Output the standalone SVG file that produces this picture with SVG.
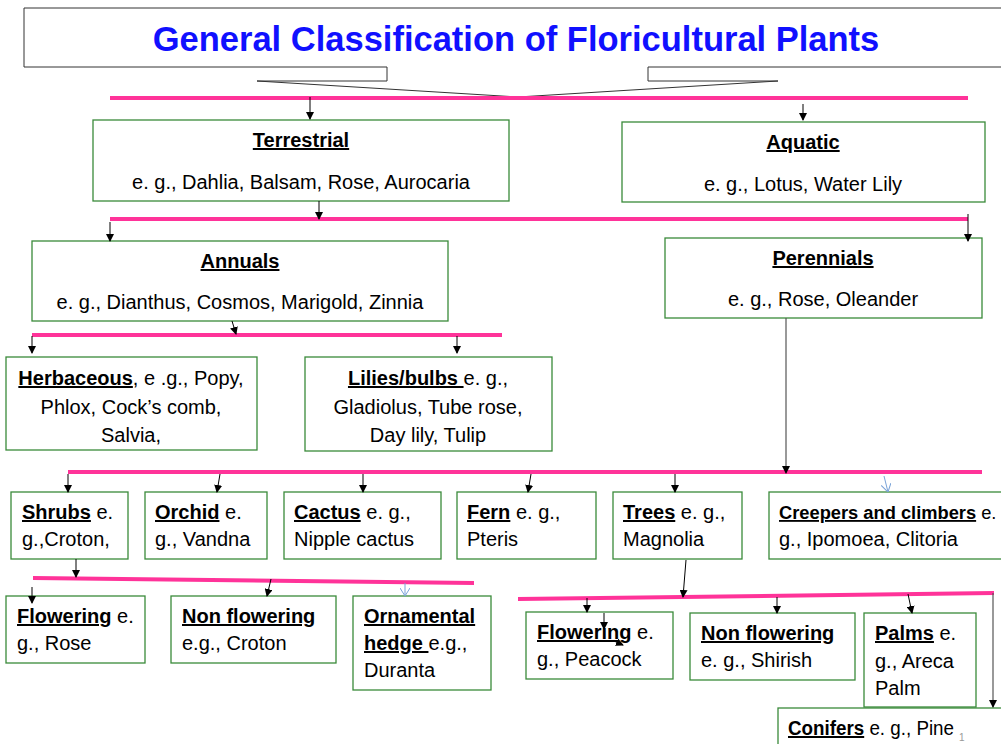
<svg xmlns="http://www.w3.org/2000/svg" width="1001" height="744" viewBox="0 0 1001 744">
<style>
.box{fill:#fff;stroke:#3a8a3a;stroke-width:1.3}
.t{font-family:"Liberation Sans",Arial,sans-serif;font-size:20px;fill:#000}
.b{font-weight:bold;text-decoration:underline}
.pink{stroke:#ff3399;stroke-width:4;fill:none}
.c{stroke:#000;stroke-width:1;fill:none;marker-end:url(#ah)}
.cb{stroke:#7aa3d8;stroke-width:1;fill:none;marker-end:url(#ahb)}
.cg{stroke:#555;stroke-width:1.2;fill:none;marker-end:url(#ah)}
</style>
<defs>
<marker id="ah" markerWidth="8" markerHeight="8" refX="7" refY="4" orient="auto" markerUnits="userSpaceOnUse">
<path d="M0,0 L8,4 L0,8 Z" fill="#000"/>
</marker>
<marker id="ahb" markerWidth="8" markerHeight="10" refX="8" refY="5" orient="auto" markerUnits="userSpaceOnUse">
<path d="M0,0 L8,5 L0,10" fill="none" stroke="#7aa3d8" stroke-width="1"/>
</marker>
</defs>
<rect width="1001" height="744" fill="#fff"/>

<g id="title">
<path d="M24,8 H1002 V67 H648 V81 H778 L518,97 L257,81 H387 V67 H24 Z" fill="#fff" stroke="#333" stroke-width="1"/>
<text x="516" y="51" font-family="Liberation Sans,Arial,sans-serif" font-size="34.5" font-weight="bold" fill="#1010ff" text-anchor="middle">General Classification of Floricultural Plants</text>
</g>

<g id="terrestrial">
<rect class="box" x="93" y="120" width="416" height="81"/>
<text class="t" x="301" y="147" text-anchor="middle"><tspan class="b">Terrestrial</tspan></text>
<text class="t" x="301" y="189" text-anchor="middle">e. g., Dahlia, Balsam, Rose, Aurocaria</text>
</g>
<g id="aquatic">
<rect class="box" x="622" y="122" width="363" height="80"/>
<text class="t" x="803" y="149" text-anchor="middle"><tspan class="b">Aquatic</tspan></text>
<text class="t" x="803" y="191" text-anchor="middle">e. g., Lotus, Water Lily</text>
</g>
<g id="annuals">
<rect class="box" x="32" y="241" width="416" height="80"/>
<text class="t" x="240" y="268" text-anchor="middle"><tspan class="b">Annuals</tspan></text>
<text class="t" x="240" y="309" text-anchor="middle">e. g., Dianthus, Cosmos, Marigold, Zinnia</text>
</g>
<g id="perennials">
<rect class="box" x="665" y="238" width="317" height="80"/>
<text class="t" x="823" y="265" text-anchor="middle"><tspan class="b">Perennials</tspan></text>
<text class="t" x="823" y="306" text-anchor="middle">e. g., Rose, Oleander</text>
</g>
<g id="herbaceous">
<rect class="box" x="6" y="357" width="251" height="93"/>
<text class="t" x="131" y="385" text-anchor="middle"><tspan class="b">Herbaceous</tspan>, e .g., Popy,</text>
<text class="t" x="131" y="414" text-anchor="middle">Phlox, Cock’s comb,</text>
<text class="t" x="131" y="442" text-anchor="middle">Salvia,</text>
</g>
<g id="lilies">
<rect class="box" x="305" y="357" width="247" height="94"/>
<text class="t" x="428" y="385" text-anchor="middle"><tspan class="b">Lilies/bulbs </tspan>e. g.,</text>
<text class="t" x="428" y="414" text-anchor="middle">Gladiolus, Tube rose,</text>
<text class="t" x="428" y="442" text-anchor="middle">Day lily, Tulip</text>
</g>

<g id="shrubs">
<rect class="box" x="11" y="492" width="117" height="67"/>
<text class="t" x="22" y="519"><tspan class="b">Shrubs</tspan> e.</text>
<text class="t" x="22" y="546">g.,Croton,</text>
</g>
<g id="orchid">
<rect class="box" x="145" y="492" width="122" height="67"/>
<text class="t" x="155" y="519"><tspan class="b">Orchid</tspan> e.</text>
<text class="t" x="155" y="546">g., Vandna</text>
</g>
<g id="cactus">
<rect class="box" x="284" y="492" width="157" height="67"/>
<text class="t" x="294" y="519"><tspan class="b">Cactus</tspan> e. g.,</text>
<text class="t" x="294" y="546">Nipple cactus</text>
</g>
<g id="fern">
<rect class="box" x="457" y="492" width="139" height="67"/>
<text class="t" x="467" y="519"><tspan class="b">Fern</tspan> e. g.,</text>
<text class="t" x="467" y="546">Pteris</text>
</g>
<g id="trees">
<rect class="box" x="613" y="492" width="129" height="67"/>
<text class="t" x="623" y="519"><tspan class="b">Trees</tspan> e. g.,</text>
<text class="t" x="623" y="546">Magnolia</text>
</g>
<g id="creepers">
<rect class="box" x="769" y="492" width="240" height="67"/>
<text class="t" x="779" y="519" style="font-size:18.3px"><tspan class="b">Creepers and climbers</tspan> e.</text>
<text class="t" x="779" y="546">g., Ipomoea, Clitoria</text>
</g>

<g id="flowering-shrub">
<rect class="box" x="6" y="596" width="139" height="67"/>
<text class="t" x="17" y="623"><tspan class="b">Flowering</tspan> e.</text>
<text class="t" x="17" y="650">g., Rose</text>
</g>
<g id="nonflowering-shrub">
<rect class="box" x="171" y="596" width="165" height="67"/>
<text class="t" x="182" y="623"><tspan class="b">Non flowering</tspan></text>
<text class="t" x="182" y="650">e.g., Croton</text>
</g>
<g id="ornamental">
<rect class="box" x="353" y="596" width="138" height="94"/>
<text class="t" x="364" y="623"><tspan class="b">Ornamental</tspan></text>
<text class="t" x="364" y="650"><tspan class="b">hedge </tspan>e.g.,</text>
<text class="t" x="364" y="677">Duranta</text>
</g>

<g id="flowering-tree">
<rect class="box" x="526" y="612" width="147" height="67"/>
<text class="t" x="537" y="639"><tspan class="b">Flowering</tspan> e.</text>
<text class="t" x="537" y="666">g., Peacock</text>
</g>
<g id="nonflowering-tree">
<rect class="box" x="690" y="613" width="165" height="67"/>
<text class="t" x="701" y="640"><tspan class="b">Non flowering</tspan></text>
<text class="t" x="701" y="667">e. g., Shirish</text>
</g>
<g id="palms">
<rect class="box" x="864" y="613" width="112" height="94"/>
<text class="t" x="875" y="640"><tspan class="b">Palms</tspan> e.</text>
<text class="t" x="875" y="668">g., Areca</text>
<text class="t" x="875" y="695">Palm</text>
</g>
<g id="conifers">
<rect class="box" x="778" y="708" width="240" height="50"/>
<text class="t" x="788" y="735" textLength="166" lengthAdjust="spacingAndGlyphs"><tspan class="b">Conifers</tspan> e. g., Pine</text>
</g>
<text x="959" y="741" font-family="Liberation Sans,Arial,sans-serif" font-size="10" fill="#999">1</text>

<g id="connectors">
<line class="pink" x1="110" y1="98" x2="968" y2="98"/>
<line class="c" x1="310" y1="97" x2="310" y2="119"/>
<line class="c" x1="803" y1="104" x2="803" y2="120"/>
<line class="pink" x1="110" y1="219" x2="968" y2="219"/>
<line class="c" x1="319" y1="201" x2="319" y2="219"/>
<line class="c" x1="110" y1="222" x2="110" y2="241"/>
<line class="c" x1="968" y1="214" x2="968" y2="241"/>
<line class="pink" x1="32" y1="335" x2="502" y2="335"/>
<line class="c" x1="232" y1="321" x2="236" y2="334"/>
<line class="c" x1="32" y1="336" x2="32" y2="353"/>
<line class="c" x1="457" y1="336" x2="457" y2="353"/>
<line class="pink" x1="68" y1="472" x2="982" y2="472"/>
<line class="cg" x1="786" y1="318" x2="786" y2="473"/>
<line class="c" x1="68" y1="474" x2="68" y2="492"/>
<line class="c" x1="220" y1="474" x2="217" y2="492"/>
<line class="c" x1="363" y1="474" x2="363" y2="492"/>
<line class="c" x1="531" y1="474" x2="528" y2="492"/>
<line class="c" x1="675" y1="474" x2="675" y2="492"/>
<line class="cb" x1="884" y1="476" x2="888" y2="492"/>
<line class="pink" x1="33" y1="578" x2="474" y2="583"/>
<line class="c" x1="76" y1="559" x2="76" y2="577"/>
<line class="c" x1="32" y1="587" x2="32" y2="603"/>
<line class="c" x1="271" y1="579" x2="267" y2="596"/>
<line class="cb" x1="405" y1="583" x2="405" y2="596"/>
<line class="pink" x1="518" y1="599" x2="994" y2="593"/>
<line class="c" x1="686" y1="560" x2="683" y2="597"/>
<line class="c" x1="587" y1="598" x2="587" y2="612"/>
<line class="c" x1="777" y1="597" x2="777" y2="613"/>
<line class="c" x1="908" y1="594" x2="912" y2="613"/>
<line class="cg" x1="993" y1="593" x2="993" y2="707"/>
<line class="c" x1="604" y1="613" x2="604" y2="629"/>
<line class="c" x1="614" y1="641" x2="623" y2="645"/>
</g>
</svg>
